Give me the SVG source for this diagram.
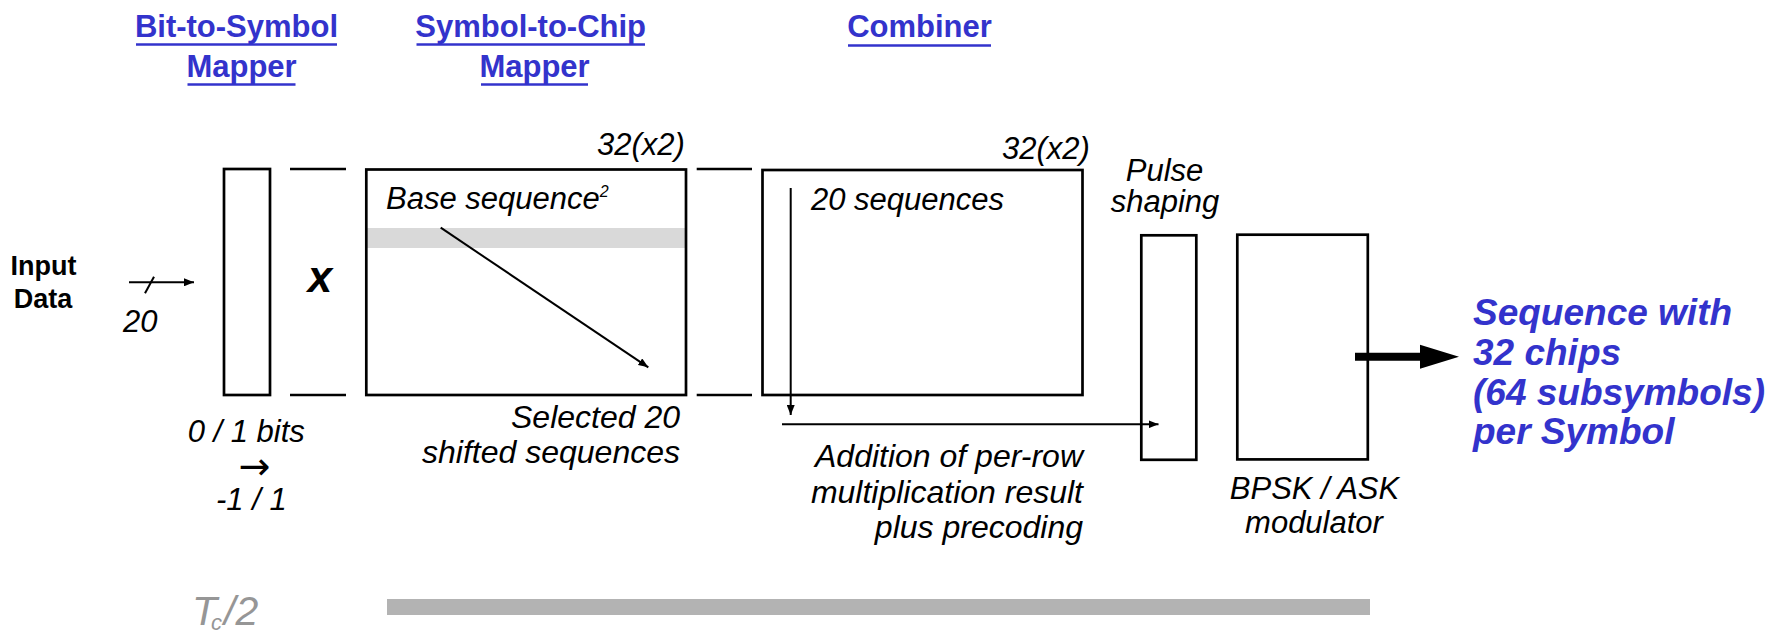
<svg xmlns="http://www.w3.org/2000/svg" width="1780" height="633" viewBox="0 0 1780 633">
<defs>
<marker id="ah" viewBox="0 0 10 8" refX="10" refY="4" markerWidth="10" markerHeight="8" markerUnits="userSpaceOnUse" orient="auto">
<path d="M0,0 L10,4 L0,8 Z" fill="#000"/>
</marker>
<style>
text{font-family:"Liberation Sans",Arial,sans-serif;}
.title{font-size:31px;font-weight:bold;fill:#3333CC;text-anchor:middle;}
.ul{stroke:#3333CC;stroke-width:2.5;}
.it{font-size:31px;font-style:italic;fill:#000;}
.it2{font-size:32px;font-style:italic;fill:#000;}
.box{fill:none;stroke:#000;stroke-width:2.7;}
.sep{stroke:#000;stroke-width:2.7;}
.conn{stroke:#000;stroke-width:2;fill:none;}
.out{font-size:37px;font-weight:bold;font-style:italic;fill:#3333CC;}
.gray{font-style:italic;fill:#969696;}
</style>
</defs>
<rect width="1780" height="633" fill="#fff"/>

<g id="titles">
<text class="title" x="236.5" y="37">Bit-to-Symbol</text>
<text class="title" x="241.5" y="77">Mapper</text>
<line class="ul" x1="136" y1="44.5" x2="337" y2="44.5"/>
<line class="ul" x1="187.5" y1="84.5" x2="295.5" y2="84.5"/>
<text class="title" x="530.7" y="37">Symbol-to-Chip</text>
<text class="title" x="534.5" y="77">Mapper</text>
<line class="ul" x1="416.5" y1="44.5" x2="645" y2="44.5"/>
<line class="ul" x1="481" y1="84.5" x2="588" y2="84.5"/>
<text class="title" x="919.5" y="37">Combiner</text>
<line class="ul" x1="848" y1="45.5" x2="991" y2="45.5"/>
</g>

<g id="input">
<text x="43.5" y="275" font-size="27" font-weight="bold" text-anchor="middle">Input</text>
<text x="43" y="308" font-size="27" font-weight="bold" text-anchor="middle">Data</text>
<text class="it" x="123" y="332">20</text>
</g>

<g id="bit-to-symbol">
<rect class="box" x="224" y="169" width="46" height="226"/>
<text class="it" x="187.7" y="441.7">0 / 1 bits</text>
<text x="254.5" y="479" font-size="38" text-anchor="middle" style="font-family:'DejaVu Sans',sans-serif">→</text>
<text class="it" x="216" y="510">-1 / 1</text>
</g>

<g id="multiply">
<line class="sep" x1="290" y1="169" x2="346" y2="169"/>
<line class="sep" x1="290" y1="395" x2="346" y2="395"/>
<text x="320" y="291.5" font-size="44" font-weight="bold" font-style="italic" text-anchor="middle">x</text>
</g>

<g id="symbol-to-chip">
<rect x="366" y="228" width="320" height="20" fill="#d9d9d9"/>
<rect class="box" x="366.3" y="169.5" width="319.7" height="225.5"/>
<text class="it" x="386" y="209">Base sequence<tspan dy="-12" font-size="16">2</tspan></text>
<text class="it" x="597" y="155">32(x2)</text>
<text class="it2" x="680" y="428" text-anchor="end">Selected 20</text>
<text class="it2" x="680" y="462.7" text-anchor="end">shifted sequences</text>
</g>

<g id="sep2">
<line class="sep" x1="696.7" y1="169" x2="752" y2="169"/>
<line class="sep" x1="696.7" y1="395" x2="752" y2="395"/>
</g>

<g id="combiner">
<rect class="box" x="762.5" y="170" width="320" height="225"/>
<text class="it" x="1002" y="159">32(x2)</text>
<text class="it" x="811" y="210">20 sequences</text>
<text class="it2" x="1083" y="467" text-anchor="end">Addition of per-row</text>
<text class="it2" x="1083" y="502.5" text-anchor="end">multiplication result</text>
<text class="it2" x="1083" y="538" text-anchor="end">plus precoding</text>
</g>

<g id="pulse-shaping">
<rect class="box" x="1141.3" y="235.3" width="55" height="224.5"/>
<text class="it" x="1164.5" y="180.7" text-anchor="middle">Pulse</text>
<text class="it" x="1165" y="212" text-anchor="middle">shaping</text>
</g>

<g id="modulator">
<rect class="box" x="1237.3" y="234.7" width="130.5" height="224.7"/>
<text class="it" x="1314.5" y="499" text-anchor="middle">BPSK / ASK</text>
<text class="it" x="1314" y="532.7" text-anchor="middle">modulator</text>
</g>

<g id="output">
<text class="out" x="1473" y="325">Sequence with</text>
<text class="out" x="1473" y="365">32 chips</text>
<text class="out" x="1473" y="404.5">(64 subsymbols)</text>
<text class="out" x="1473" y="444">per Symbol</text>
</g>

<g id="timing">
<rect x="387" y="599" width="983" height="16" fill="#b3b3b3"/>
<text class="gray" x="192" y="625" font-size="41">T</text>
<text class="gray" x="211" y="630" font-size="22">c</text>
<text class="gray" x="224" y="625" font-size="41">/2</text>
</g>

<g id="connectors">
<line class="conn" x1="129" y1="282.3" x2="194" y2="282.3" marker-end="url(#ah)"/>
<line class="conn" x1="145" y1="293.3" x2="154" y2="276.7"/>
<line class="conn" x1="440.7" y1="227.7" x2="648.3" y2="367.3" marker-end="url(#ah)"/>
<line class="conn" x1="790.7" y1="188" x2="790.7" y2="415" marker-end="url(#ah)"/>
<line class="conn" x1="782" y1="424.3" x2="1158.5" y2="424.3" marker-end="url(#ah)"/>
<line x1="1355" y1="356.7" x2="1422" y2="356.7" stroke="#000" stroke-width="8"/>
<polygon points="1420,344.7 1459,356.7 1420,368.7" fill="#000"/>
</g>
</svg>
